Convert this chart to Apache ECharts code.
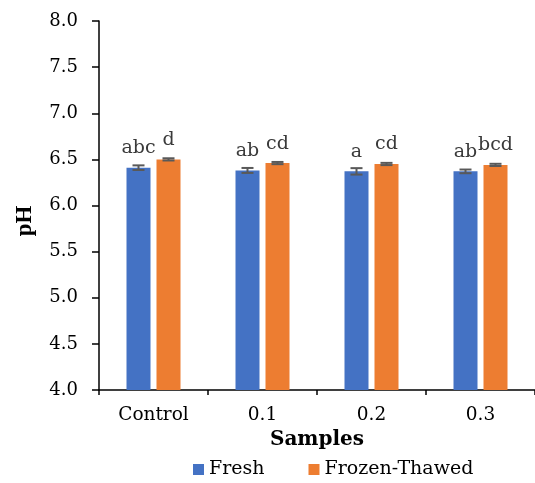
<!DOCTYPE html>
<html>
<head>
<meta charset="utf-8">
<script src="https://cdn.jsdelivr.net/npm/echarts@6/dist/echarts.min.js"></script>
<style>html,body{margin:0;padding:0;background:#fff}#c{width:535px;height:483px}</style>
</head>
<body>
<div id="c"></div>
<script>
var categories = ['Control', '0.1', '0.2', '0.3'];
var freshValues = [6.41, 6.38, 6.37, 6.37];
var frozenValues = [6.50, 6.46, 6.45, 6.44];
var freshErrors = [0.025, 0.027, 0.035, 0.02];
var frozenErrors = [0.012, 0.012, 0.012, 0.012];
var freshLetters = ['abc', 'ab', 'a', 'ab'];
var frozenLetters = ['d', 'cd', 'cd', 'bcd'];
var yTicks = ['4.0','4.5','5.0','5.5','6.0','6.5','7.0','7.5','8.0'];

var BAR_W = 24, OFFSET = 15, CAP = 12;
var serif = 'DejaVu Serif';

function errSeries(values, errors, off) {
  return {
    type: 'custom',
    silent: true,
    z: 10,
    data: values.map(function (v, i) { return [i, v - errors[i], v + errors[i]]; }),
    renderItem: function (params, api) {
      var lo = api.coord([api.value(0), api.value(1)]);
      var hi = api.coord([api.value(0), api.value(2)]);
      var x = lo[0] + off;
      var st = { stroke: '#595959', lineWidth: 2 };
      return {
        type: 'group',
        children: [
          { type: 'line', shape: { x1: x, y1: lo[1], x2: x, y2: hi[1] }, style: st },
          { type: 'line', shape: { x1: x - CAP / 2, y1: lo[1], x2: x + CAP / 2, y2: lo[1] }, style: st },
          { type: 'line', shape: { x1: x - CAP / 2, y1: hi[1], x2: x + CAP / 2, y2: hi[1] }, style: st }
        ]
      };
    }
  };
}

function letterLabel(letters) {
  return {
    show: true, position: 'top', distance: 10,
    formatter: function (p) { return letters[p.dataIndex]; },
    fontFamily: serif, fontSize: 19, color: '#3a3a3a'
  };
}

var chart = echarts.init(document.getElementById('c'));
chart.setOption({
  animation: false,
  backgroundColor: '#ffffff',
  grid: { left: 99, top: 21, right: -3, bottom: 93, containLabel: false },
  legend: {
    left: 193, top: 460, padding: 0,
    icon: 'rect', itemWidth: 11, itemHeight: 11, itemGap: 44,
    textStyle: { fontFamily: serif, fontSize: 19, color: '#000' },
    data: ['Fresh', 'Frozen-Thawed']
  },
  xAxis: {
    type: 'category',
    data: categories,
    name: 'Samples', nameLocation: 'middle', nameGap: 40,
    nameTextStyle: { fontFamily: serif, fontWeight: 'bold', fontSize: 20, color: '#000' },
    axisLine: { lineStyle: { color: '#000', width: 1.5 } },
    axisTick: { show: true, length: 5, lineStyle: { color: '#000', width: 1.5 } },
    axisLabel: { fontFamily: serif, fontSize: 18.5, color: '#000', margin: 16 },
    splitLine: { show: false }
  },
  yAxis: {
    type: 'value', min: 4, max: 8, interval: 0.5,
    axisLine: { show: true, lineStyle: { color: '#000', width: 1.5 } },
    axisTick: { show: true, length: 7, lineStyle: { color: '#000', width: 1.5 } },
    axisLabel: {
      fontFamily: serif, fontSize: 18, color: '#000', margin: 21,
      formatter: function (v) { return yTicks[Math.round((v - 4) / 0.5)]; }
    },
    splitLine: { show: false }
  },
  graphic: [{
    type: 'text', x: 25, y: 221, rotation: Math.PI / 2,
    style: { text: 'pH', fontFamily: 'Liberation Serif', fontWeight: 'bold', fontSize: 23, fill: '#000', align: 'center', verticalAlign: 'middle' }
  }],
  series: [
    { name: 'Fresh', type: 'bar', data: freshValues, barWidth: BAR_W, barGap: '25%',
      itemStyle: { color: '#4472C4' }, label: letterLabel(freshLetters) },
    { name: 'Frozen-Thawed', type: 'bar', data: frozenValues, barWidth: BAR_W, barGap: '25%',
      itemStyle: { color: '#ED7D31' }, label: letterLabel(frozenLetters) },
    errSeries(freshValues, freshErrors, -OFFSET),
    errSeries(frozenValues, frozenErrors, OFFSET)
  ]
});
</script>
</body>
</html>
